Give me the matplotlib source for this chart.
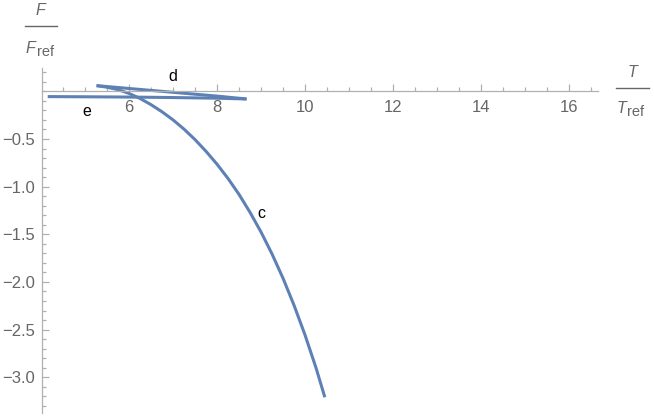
import numpy as np
import matplotlib
matplotlib.use("Agg")
import matplotlib.pyplot as plt
from matplotlib.lines import Line2D
from matplotlib.ticker import MultipleLocator

plt.rcParams['font.family'] = ['Liberation Sans', 'DejaVu Sans']

# curve c
c_x = [5.26, 5.5, 5.75, 6.0, 6.25, 6.5, 6.75, 7.0, 7.25, 7.5, 7.75, 8.0,
       8.25, 8.5, 8.75, 9.0, 9.25, 9.5, 9.75, 10.0, 10.25, 10.45]
c_y = [0.06, 0.043, 0.018, -0.022, -0.075, -0.14, -0.215, -0.30, -0.397,
       -0.507, -0.63, -0.765, -0.915, -1.082, -1.27, -1.477, -1.707, -1.962,
       -2.245, -2.557, -2.902, -3.21]
# curve d
d_x = [5.26, 6.0, 7.0, 8.0, 8.67]
d_y = [0.06, 0.03, -0.01, -0.05, -0.08]
# curve e
e_x = [4.15, 5.0, 6.0, 7.0, 8.0, 8.67]
e_y = [-0.055, -0.057, -0.060, -0.065, -0.072, -0.08]

curve_labels = {"c": (9.0, -1.28), "d": (7.0, 0.16), "e": (5.05, -0.21)}

blue = '#5E81B5'
axcol = '#b0b0b0'
labcol = '#666666'

W, H = 654, 418
fig = plt.figure(figsize=(W/100, H/100), dpi=100)
ax = fig.add_axes([42/W, 5/H, (598-42)/W, (413-68)/H])

ax.plot(c_x, c_y, color=blue, lw=2.2, solid_capstyle='butt', solid_joinstyle='round')
ax.plot(d_x, d_y, color=blue, lw=2.2, solid_capstyle='butt')
ax.plot(e_x, e_y, color=blue, lw=2.2, solid_capstyle='butt')

for k, (x, y) in curve_labels.items():
    ax.text(x, y, k, fontsize=11.5, color='black', ha='center', va='center')

ax.set_xlim(4.02, 16.66)
ax.set_ylim(-3.375, 0.245)

for s in ['top', 'right']:
    ax.spines[s].set_visible(False)
ax.spines['bottom'].set_position(('data', 0))
ax.spines['left'].set_color(axcol)
ax.spines['bottom'].set_color(axcol)
ax.spines['left'].set_linewidth(0.9)
ax.spines['bottom'].set_linewidth(0.9)

ax.xaxis.set_minor_locator(MultipleLocator(0.5))
ax.yaxis.set_minor_locator(MultipleLocator(0.1))
ax.set_xticks([6, 8, 10, 12, 14, 16])
ax.set_yticks([-3.0, -2.5, -2.0, -1.5, -1.0, -0.5])
ax.set_yticklabels(['−3.0', '−2.5', '−2.0', '−1.5', '−1.0', '−0.5'])

ax.tick_params(which='both', direction='in', color=axcol, labelcolor=labcol,
               labelsize=12, width=0.9)
ax.tick_params(which='major', length=5)
ax.tick_params(which='minor', length=3)
ax.tick_params(axis='x', pad=6)
ax.tick_params(axis='y', pad=5)


def frac_label(sym, cx, num_base, line_y, x0, x1, den_split, den_base):
    # numerator, bar and denominator in pixel positions
    fig.text(cx/W, 1 - num_base/H, sym, fontsize=11.5, style='italic',
             color=labcol, ha='center', va='baseline')
    fig.add_artist(Line2D([x0/W, x1/W], [1 - line_y/H, 1 - line_y/H],
                          color=labcol, lw=1.0, transform=fig.transFigure))
    fig.text(den_split/W, 1 - den_base/H, sym, fontsize=11.5, style='italic',
             color=labcol, ha='right', va='baseline')
    fig.text((den_split + 1)/W, 1 - (den_base + 2.5)/H, 'ref', fontsize=10.5,
             color=labcol, ha='left', va='baseline')


frac_label('F', 40.5, 15, 26, 25, 57, 35.5, 53)
frac_label('T', 632, 77, 88, 616, 649, 626, 113)

fig.savefig('out.png', dpi=100)
